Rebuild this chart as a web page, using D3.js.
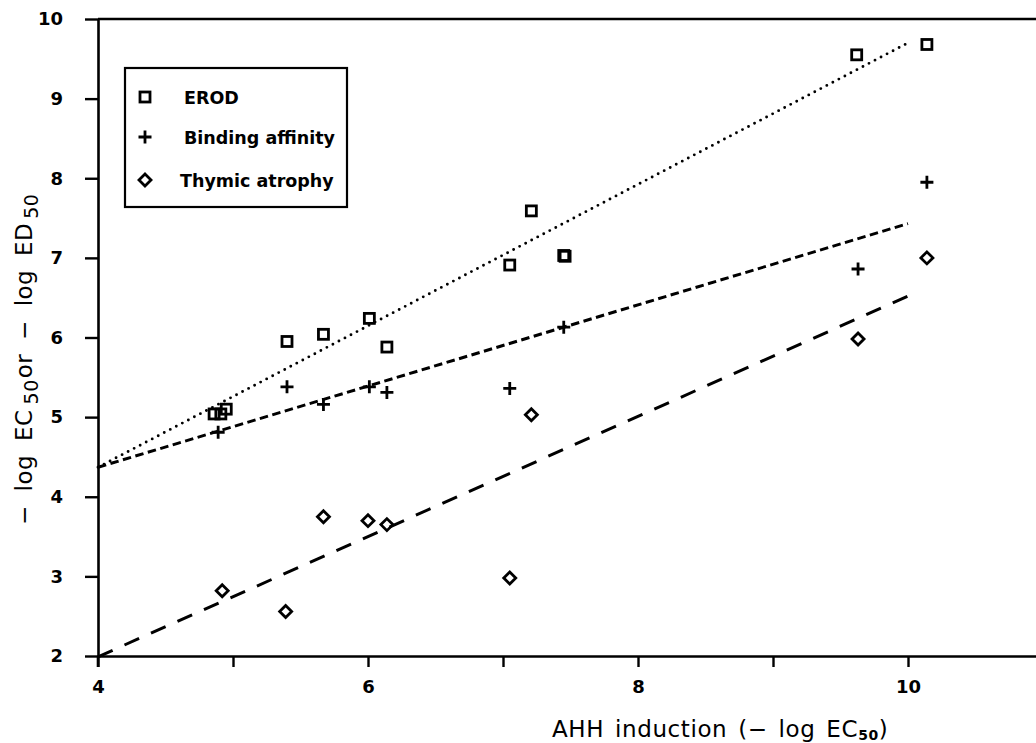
<!DOCTYPE html>
<html>
<head>
<meta charset="utf-8">
<script src="https://cdn.jsdelivr.net/npm/d3@7"></script>
<style>
  html, body { margin: 0; padding: 0; background: #fff; }
  svg { display: block; }
  text { font-family: "DejaVu Sans", sans-serif; fill: #000; }
</style>
</head>
<body>
<svg id="chart" width="1036" height="743"></svg>
<script>
// ---- data ----
const xTicks = [4, 5, 6, 7, 8, 9, 10];
const xTickLabels = ["4", "", "6", "", "8", "", "10"];
const yTicks = [2, 3, 4, 5, 6, 7, 8, 9, 10];
const yTickLabels = ["2", "3", "4", "5", "6", "7", "8", "9", "10"];

const erodX = [4.86, 4.91, 4.95, 5.40, 5.67, 6.01, 6.14, 7.05, 7.21, 7.45, 7.46, 9.62, 10.14];
const erodY = [5.04, 5.04, 5.10, 5.95, 6.04, 6.24, 5.88, 6.91, 7.59, 7.03, 7.02, 9.55, 9.68];

const bindX = [4.89, 5.40, 5.67, 6.01, 6.14, 7.05, 7.45, 9.63, 10.14];
const bindY = [4.81, 5.38, 5.16, 5.38, 5.31, 5.36, 6.13, 6.86, 7.95];

const thymX = [4.92, 5.39, 5.67, 6.00, 6.14, 7.05, 7.21, 9.63, 10.14];
const thymY = [2.82, 2.56, 3.75, 3.70, 3.65, 2.98, 5.03, 5.98, 7.00];

// regression lines: [x0, y0, x1, y1]
const erodFit = [4, 4.37, 10, 9.70];
const bindFit = [4, 4.37, 10, 7.43];
const thymFit = [4, 1.99, 10, 6.52];

const legendLabels = ["EROD", "Binding affinity", "Thymic atrophy"];

// ---- drawing ----
const svg = d3.select("#chart");
const x = d3.scaleLinear().domain([4, 11]).range([98, 1043]);
const y = d3.scaleLinear().domain([2, 10]).range([656, 19]);

// Fit lines
function drawFit(f, dash, w, cap) {
  svg.append("line")
    .attr("x1", x(f[0])).attr("y1", y(f[1]))
    .attr("x2", x(f[2])).attr("y2", y(f[3]))
    .attr("stroke", "#000").attr("stroke-width", w)
    .attr("stroke-dasharray", dash)
    .attr("stroke-linecap", cap || "butt");
}
drawFit(erodFit, "0,6.8", 2.9, "round");
drawFit(bindFit, "8.5,4.5", 3);
drawFit(thymFit, "16,13", 3);

// Axes
const yAxis = d3.axisLeft(y).tickValues(yTicks)
  .tickFormat((d, i) => yTickLabels[i]).tickSize(13).tickSizeOuter(0).tickPadding(22);
const gy = svg.append("g").attr("transform", `translate(${x(4)},0)`).call(yAxis);

const xAxis = d3.axisBottom(x).tickValues(xTicks)
  .tickFormat((d, i) => xTickLabels[i]).tickSize(11).tickSizeOuter(0).tickPadding(13);
const gx = svg.append("g").attr("transform", `translate(0,${y(2)})`).call(xAxis);

[gx, gy].forEach(g => {
  g.select(".domain").attr("stroke", "#000").attr("stroke-width", 2.6);
  g.selectAll(".tick line").attr("stroke", "#000").attr("stroke-width", 2.4);
  g.selectAll(".tick text")
    .style("font-family", "DejaVu Sans, sans-serif")
    .style("font-size", "18px").style("font-weight", "bold").attr("fill", "#000");
});
// extend the y axis down as the x=4 tick
svg.append("line").attr("x1", x(4)).attr("x2", x(4))
  .attr("y1", y(2)).attr("y2", y(2) + 11)
  .attr("stroke", "#000").attr("stroke-width", 2.6);
// top frame
svg.append("line").attr("x1", x(4)).attr("x2", 1036)
  .attr("y1", y(10)).attr("y2", y(10))
  .attr("stroke", "#000").attr("stroke-width", 2.6);

// markers
function square(g, cx, cy) {
  g.append("rect").attr("x", cx - 5).attr("y", cy - 5)
    .attr("width", 10).attr("height", 10)
    .attr("fill", "none").attr("stroke", "#000").attr("stroke-width", 2.8);
}
function plus(g, cx, cy) {
  g.append("path").attr("d", `M${cx - 6.5},${cy}H${cx + 6.5}M${cx},${cy - 6.5}V${cy + 6.5}`)
    .attr("stroke", "#000").attr("stroke-width", 2.8).attr("fill", "none");
}
function diamond(g, cx, cy) {
  g.append("path").attr("d", `M${cx},${cy - 6}L${cx + 6},${cy}L${cx},${cy + 6}L${cx - 6},${cy}Z`)
    .attr("stroke", "#000").attr("stroke-width", 2.8).attr("fill", "none");
}
const pts = svg.append("g");
erodX.forEach((d, i) => square(pts, x(d), y(erodY[i])));
bindX.forEach((d, i) => plus(pts, x(d), y(bindY[i])));
thymX.forEach((d, i) => diamond(pts, x(d), y(thymY[i])));

// legend
const lg = svg.append("g");
lg.append("rect").attr("x", 125).attr("y", 68).attr("width", 222).attr("height", 139)
  .attr("fill", "#fff").attr("stroke", "#000").attr("stroke-width", 2.2);
const markers = [square, plus, diamond];
const legY = [97, 137, 180];
const legTX = [184, 184, 180];
legendLabels.forEach((lab, i) => {
  markers[i](lg, 145, legY[i]);
  lg.append("text").attr("x", legTX[i]).attr("y", legY[i] + 6.5)
    .style("font-size", "17.5px").style("font-weight", "bold").text(lab);
});

// x title
const xt = svg.append("text").attr("x", 552).attr("y", 737)
  .style("font-size", "23px").style("letter-spacing", "0.6px").style("word-spacing", "3px");
xt.append("tspan").text("AHH induction (\u2212 log EC");
xt.append("tspan").attr("dy", 3).style("font-size", "14px").style("font-weight", "bold").text("50");
xt.append("tspan").attr("dy", -3).text(")");

// y title
const yt = svg.append("text").attr("transform", "translate(32,525) rotate(-90)")
  .attr("x", 0).attr("y", 0)
  .style("font-size", "23px").style("word-spacing", "6px").style("letter-spacing", "0.5px");
yt.append("tspan").text("\u2212 log EC");
yt.append("tspan").attr("dx", 5).attr("dy", 6).style("font-size", "19px").text("50");
yt.append("tspan").attr("dx", 1).attr("dy", -6).text("or \u2212 log ED");
yt.append("tspan").attr("dx", 4).attr("dy", 6).style("font-size", "19px").text("50");
</script>
</body>
</html>
